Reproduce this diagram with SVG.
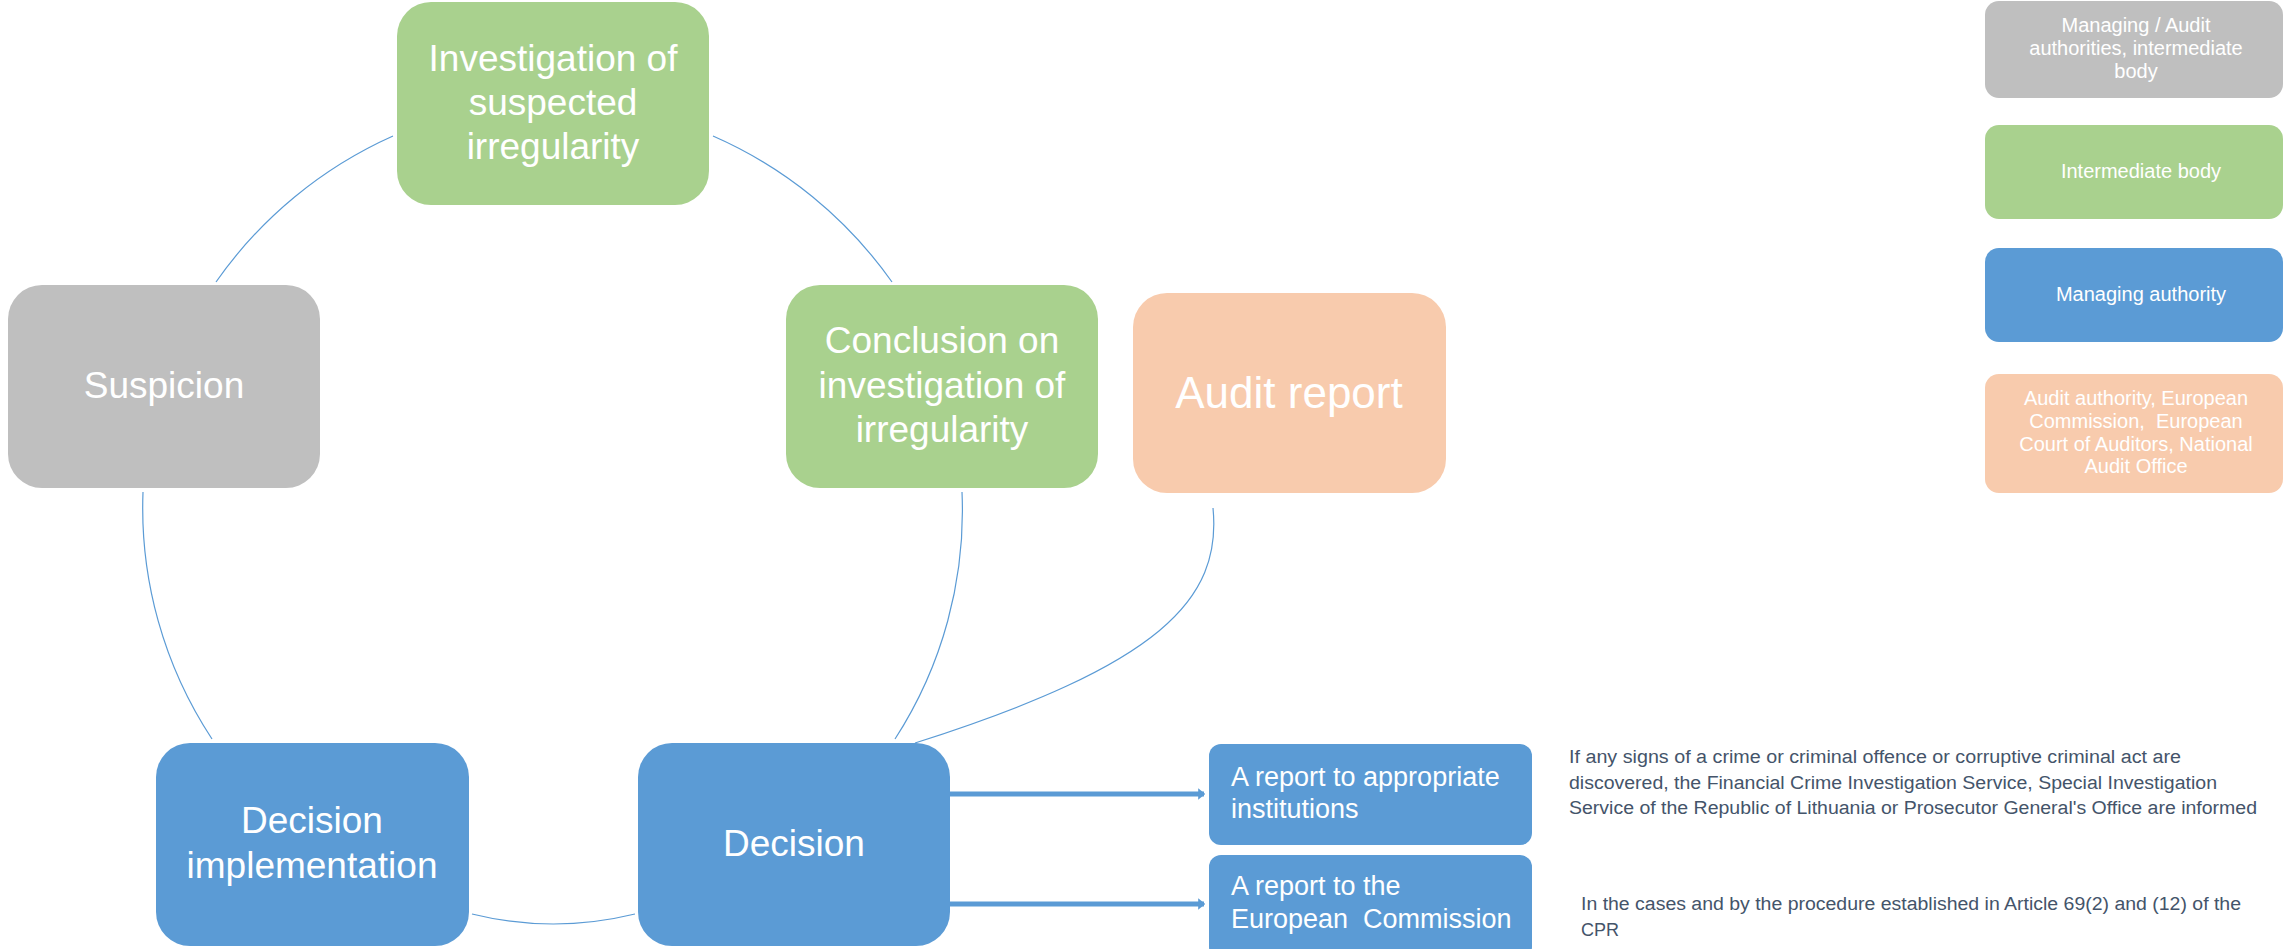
<svg xmlns="http://www.w3.org/2000/svg" width="2284" height="949" viewBox="0 0 2284 949">
<style>
.n text{font-family:"Liberation Sans",Arial,sans-serif;fill:#fff;text-anchor:middle}
.big{font-size:37px}
.lg{font-size:20px}
.rp{font-size:27px}
.desc{font-family:"Liberation Sans",Arial,sans-serif;font-size:18px;fill:#44546A}
.gray{fill:#BFBFBF}.green{fill:#A9D18E}.blue{fill:#5B9BD5}.peach{fill:#F8CBAD}
.c path{fill:none;stroke:#5B9BD5;stroke-width:1.2}
.c line{stroke:#5B9BD5;stroke-width:5}
</style>
<defs>
<marker id="ah" viewBox="0 0 6 10" refX="5" refY="5" markerWidth="1.4" markerHeight="2.4" orient="auto" markerUnits="strokeWidth">
<path d="M0,0 L6,5 L0,10 z" fill="#5B9BD5"/>
</marker>
</defs>
<rect width="2284" height="949" fill="#fff"/>
<g class="c" id="connectors">
<path d="M216,282 A430,430 0 0,1 393,136"/>
<path d="M713,136 A430,430 0 0,1 892,282"/>
<path d="M962,492 A420,420 0 0,1 895,739"/>
<path d="M635,914 Q553,934 472,914"/>
<path d="M212,739 A420,420 0 0,1 143,492"/>
<path d="M1213,508 C1222,600 1160,665 915,743"/>
<line x1="950" y1="794" x2="1204" y2="794" marker-end="url(#ah)"/>
<line x1="950" y1="904" x2="1204" y2="904" marker-end="url(#ah)"/>
</g>
<g class="n" id="investigation">
<rect class="green" x="397" y="2" width="312" height="203" rx="34"/>
<text class="big" x="553" y="71">Investigation of</text>
<text class="big" x="553" y="115">suspected</text>
<text class="big" x="553" y="159">irregularity</text>
</g>
<g class="n" id="suspicion">
<rect class="gray" x="8" y="285" width="312" height="203" rx="34"/>
<text class="big" x="164" y="398">Suspicion</text>
</g>
<g class="n" id="conclusion">
<rect class="green" x="786" y="285" width="312" height="203" rx="34"/>
<text class="big" x="942" y="353">Conclusion on</text>
<text class="big" x="942" y="398">investigation of</text>
<text class="big" x="942" y="442">irregularity</text>
</g>
<g class="n" id="audit-report">
<rect class="peach" x="1133" y="293" width="313" height="200" rx="34"/>
<text x="1289" y="408" font-size="44">Audit report</text>
</g>
<g class="n" id="decision-implementation">
<rect class="blue" x="156" y="743" width="313" height="203" rx="34"/>
<text class="big" x="312" y="833">Decision</text>
<text class="big" x="312" y="878">implementation</text>
</g>
<g class="n" id="decision">
<rect class="blue" x="638" y="743" width="312" height="203" rx="34"/>
<text class="big" x="794" y="856">Decision</text>
</g>
<g class="n" id="report-institutions">
<rect class="blue" x="1209" y="744" width="323" height="101" rx="12"/>
<text class="rp" x="1231" y="786" style="text-anchor:start">A report to appropriate</text>
<text class="rp" x="1231" y="818" style="text-anchor:start">institutions</text>
</g>
<g class="n" id="report-commission">
<rect class="blue" x="1209" y="855" width="323" height="104" rx="12"/>
<text class="rp" x="1231" y="895" style="text-anchor:start">A report to the</text>
<text class="rp" x="1231" y="928" style="text-anchor:start" xml:space="preserve">European  Commission</text>
</g>
<g id="desc-institutions">
<text class="desc" x="1569" y="763" textLength="612" lengthAdjust="spacingAndGlyphs">If any signs of a crime or criminal offence or corruptive criminal act are</text>
<text class="desc" x="1569" y="789" textLength="648" lengthAdjust="spacingAndGlyphs">discovered, the Financial Crime Investigation Service, Special Investigation</text>
<text class="desc" x="1569" y="814" textLength="688" lengthAdjust="spacingAndGlyphs">Service of the Republic of Lithuania or Prosecutor General's Office are informed</text>
</g>
<g id="desc-commission">
<text class="desc" x="1581" y="910" textLength="660" lengthAdjust="spacingAndGlyphs">In the cases and by the procedure established in Article 69(2) and (12) of the</text>
<text class="desc" x="1581" y="936">CPR</text>
</g>
<g class="n" id="legend-gray">
<rect class="gray" x="1985" y="1" width="298" height="97" rx="14"/>
<text class="lg" x="2136" y="32">Managing / Audit</text>
<text class="lg" x="2136" y="55">authorities, intermediate</text>
<text class="lg" x="2136" y="78">body</text>
</g>
<g class="n" id="legend-green">
<rect class="green" x="1985" y="125" width="298" height="94" rx="14"/>
<text class="lg" x="2141" y="178">Intermediate body</text>
</g>
<g class="n" id="legend-blue">
<rect class="blue" x="1985" y="248" width="298" height="94" rx="14"/>
<text class="lg" x="2141" y="301">Managing authority</text>
</g>
<g class="n" id="legend-peach">
<rect class="peach" x="1985" y="374" width="298" height="119" rx="14"/>
<text class="lg" x="2136" y="405">Audit authority, European</text>
<text class="lg" x="2136" y="428" xml:space="preserve">Commission,  European</text>
<text class="lg" x="2136" y="451">Court of Auditors, National</text>
<text class="lg" x="2136" y="473">Audit Office</text>
</g>
</svg>
